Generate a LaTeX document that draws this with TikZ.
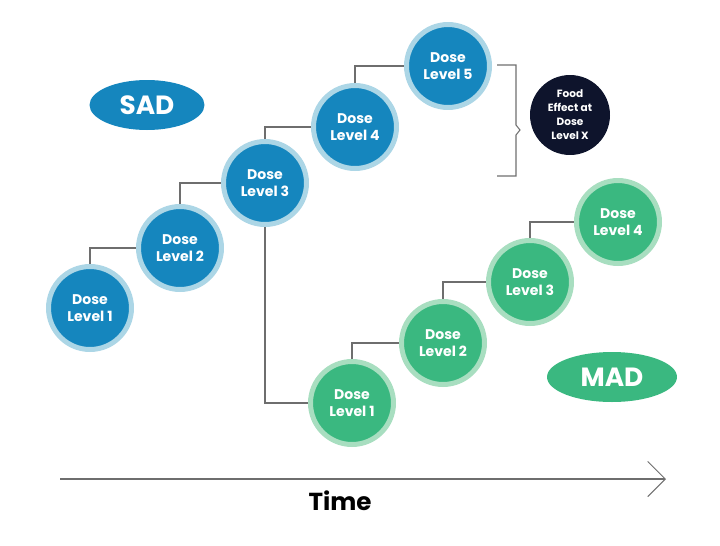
\documentclass[tikz,border=0pt]{standalone}
\usepackage{fontspec}
\setmainfont{Poppins}
\usepackage{tikz}
\usetikzlibrary{positioning, arrows.meta, shapes.geometric}
\definecolor{sadblue}{RGB}{21,134,190}
\definecolor{sadring}{RGB}{172,214,230}
\definecolor{madgreen}{RGB}{58,184,128}
\definecolor{madring}{RGB}{168,222,192}
\definecolor{foodnavy}{RGB}{14,20,44}
\definecolor{linegray}{RGB}{110,110,110}
\tikzset{%
	link/.style = {draw = linegray, line width = 0.6pt},
	sad/.style = {name = #1, circle, fill = sadblue, draw = sadring, line width = 0.1cm,
		minimum size = 1.66cm, inner sep = 0pt, align = center, text = white,
		font = \fontsize{8}{9.5}\selectfont\bfseries},
	mad/.style = {sad = #1, fill = madgreen, draw = madring},
	tag/.style = {name = #1, ellipse, inner sep = 0pt, text = white, font = \fontsize{15}{18}\selectfont\bfseries}
}
\begin{document}
\begin{tikzpicture}[x=0.02cm, y=-0.02cm]
			\useasboundingbox (0,0) rectangle (720,545);
			\node [sad = {s1}] at (90,308) {Dose\\Level 1};
			\node [sad = {s2}] at (180,248) {Dose\\Level 2};
			\node [sad = {s3}] at (265,183) {Dose\\Level 3};
			\node [sad = {s4}] at (355,127) {Dose\\Level 4};
			\node [sad = {s5}] at (448,66) {Dose\\Level 5};
			\node [tag = {sadtag}, fill = sadblue, minimum width = 2.3cm, minimum height = 1cm] at (147,105) {SAD};
			\node [name = food, circle, fill = foodnavy, minimum size = 1.6cm, inner sep = 0pt, align = center,
				text = white, font = \fontsize{6}{8}\selectfont\bfseries] at (570,115) {Food\\Effect at\\Dose\\Level X};
			\node [mad = {m1}] at (352,403) {Dose\\Level 1};
			\node [mad = {m2}] at (443,343) {Dose\\Level 2};
			\node [mad = {m3}] at (530,282) {Dose\\Level 3};
			\node [mad = {m4}] at (618,222) {Dose\\Level 4};
			\node [tag = {madtag}, fill = madgreen, minimum width = 2.6cm, minimum height = 1cm] at (612,377) {MAD};
			\coordinate (tstart) at (60,479);
			\coordinate (tend) at (666,479);
			\node [name = timelabel, font = \fontsize{14}{16}\selectfont\bfseries] at (340,501) {Time};
			% steps between doses
			\path [link] (s1) -- (s1 |- s2) -- (s2);
			\path [link] (s2) -- (s2 |- s3) -- (s3);
			\path [link] (s3) -- (s3 |- s4) -- (s4);
			\path [link] (s4) -- (s4 |- s5) -- (s5);
			\path [link] (s3) -- (s3 |- m1) -- (m1);
			\path [link] (m1) -- (m1 |- m2) -- (m2);
			\path [link] (m2) -- (m2 |- m3) -- (m3);
			\path [link] (m3) -- (m3 |- m4) -- (m4);
			% bracket to food effect
			\draw [link] (497,65) -- (516,65) -- (516,125) -- (520,130) -- (516,135) -- (516,176) -- (497,176);
			\draw [link, -{Straight Barb[length=10pt, width=20pt]}] (tstart) -- (tend);
			\end{tikzpicture}
\end{document}
